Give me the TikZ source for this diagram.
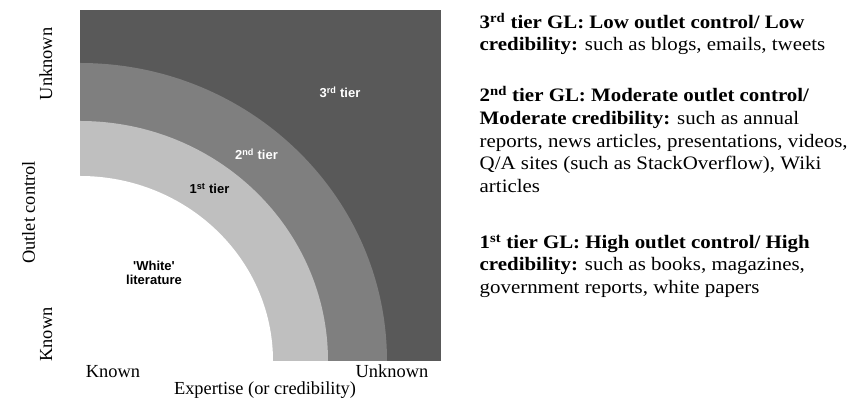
\documentclass[tikz,border=0pt]{standalone}
\usepackage{fontspec}
\setmainfont{Liberation Serif}
\newfontfamily\arialf{Liberation Sans}
\definecolor{tierthree}{HTML}{595959}
\definecolor{tiertwo}{HTML}{7F7F7F}
\definecolor{tierone}{HTML}{BFBFBF}
\tikzset{
  tierlabel/.style={font=\arialf\bfseries\fontsize{13}{14.3}\selectfont, inner sep=0pt, anchor=base},
  axislabel/.style={font=\fontsize{18.4}{21}\selectfont, inner sep=0pt, anchor=base},
  sidetext/.style={font=\fontsize{19}{22}\selectfont, inner sep=0pt, anchor=base west},
}
\newcommand{\stx}[1]{\scalebox{1.1}[1]{#1}}
\begin{document}
\begin{tikzpicture}[x=1pt,y=1pt]
\useasboundingbox (0,0) rectangle (855,403);
% quadrant
\coordinate (C) at (80,42);
\fill[tierthree] (80,42) rectangle (441,393);
\fill[tiertwo] (C) -- ++(307,0) arc[start angle=0,end angle=90,x radius=307pt,y radius=298pt] -- cycle;
\fill[tierone] (C) -- ++(248,0) arc[start angle=0,end angle=90,x radius=248pt,y radius=240pt] -- cycle;
\fill[white] (C) -- ++(193,0) arc[start angle=0,end angle=90,x radius=193pt,y radius=185pt] -- cycle;
% tier labels
\node[tierlabel, text=white] (t3) at (340,305) {3\textsuperscript{rd} tier};
\node[tierlabel, text=white] (t2) at (256.5,243) {2\textsuperscript{nd} tier};
\node[tierlabel, text=black] (t1) at (209.5,209) {1\textsuperscript{st} tier};
\node[font=\arialf\bfseries\fontsize{13}{14.3}\selectfont, inner sep=0pt, align=center] (wl) at (154,129.8) {'White'\\literature};
% axis labels
\node[axislabel, rotate=90] (yu) at (52,339) {Unknown};
\node[axislabel, rotate=90] (yt) at (35,190.5) {Outlet control};
\node[axislabel, rotate=90] (yk) at (52,68.5) {Known};
\node[axislabel] (xk) at (113,25) {Known};
\node[axislabel] (xu) at (392,25) {Unknown};
\node[axislabel] (xt) at (265,8) {Expertise (or credibility)};
% side text
\node[sidetext] (a1) at (479.5,374.7) {\stx{\textbf{3\textsuperscript{rd} tier GL: Low outlet control/ Low}}};
\node[sidetext] (a2) at (479.5,352) {\stx{\textbf{credibility:} such as blogs, emails, tweets}};
\node[sidetext] (b1) at (479.5,301.3) {\stx{\textbf{2\textsuperscript{nd} tier GL: Moderate outlet control/}}};
\node[sidetext] (b2) at (479.5,278.6) {\stx{\textbf{Moderate credibility:} such as annual}};
\node[sidetext] (b3) at (479.5,255.9) {\stx{reports, news articles, presentations, videos,}};
\node[sidetext] (b4) at (479.5,233.2) {\stx{Q/A sites (such as StackOverflow), Wiki}};
\node[sidetext] (b5) at (479.5,210.5) {\stx{articles}};
\node[sidetext] (c1) at (479.5,154.7) {\stx{\textbf{1\textsuperscript{st} tier GL: High outlet control/ High}}};
\node[sidetext] (c2) at (479.5,132) {\stx{\textbf{credibility:} such as books, magazines,}};
\node[sidetext] (c3) at (479.5,109.3) {\stx{government reports, white papers}};
\end{tikzpicture}
\end{document}
